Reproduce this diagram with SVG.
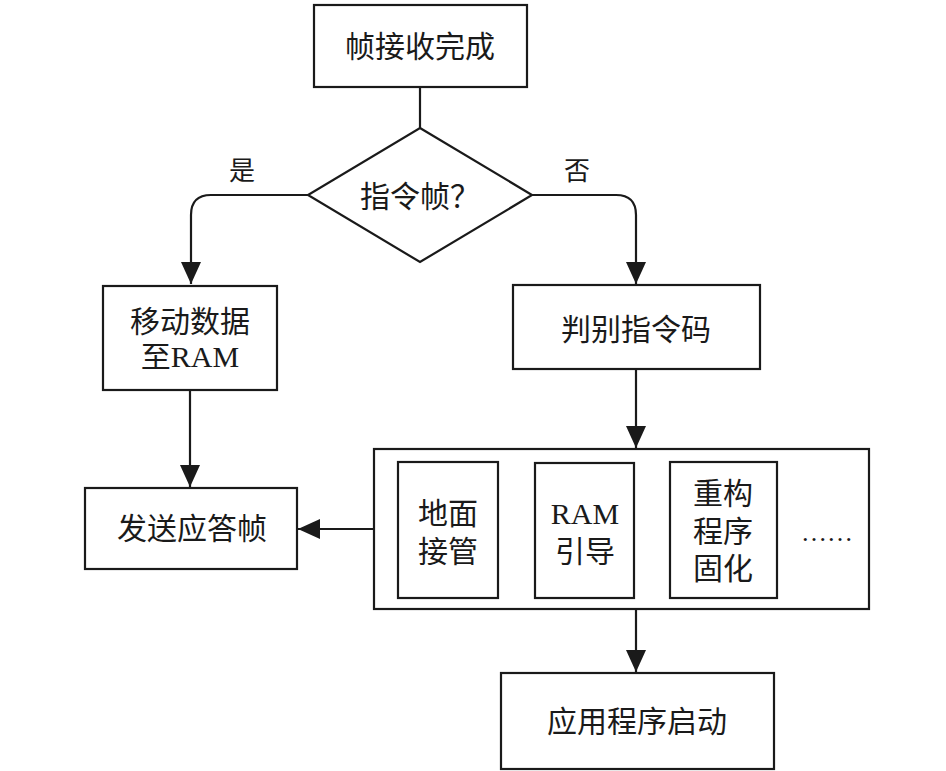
<svg xmlns="http://www.w3.org/2000/svg" width="946" height="771" viewBox="0 0 946 771">
<defs>
<marker id="arr" markerUnits="userSpaceOnUse" markerWidth="22" markerHeight="20" viewBox="0 0 22 20" refX="22" refY="10" orient="auto">
<path d="M0,0 L22,10 L0,20 Z" fill="#1a1a1a"/>
</marker>
<style>
.box{fill:#fff;stroke:#1a1a1a;stroke-width:2.2}
.ln{fill:none;stroke:#1a1a1a;stroke-width:2.2}
text{font-family:"Liberation Serif","Noto Sans CJK SC",serif;fill:#1a1a1a;text-anchor:middle;dominant-baseline:central}
.t28{font-size:30px}
.t26{font-size:26px}
.t24{font-size:26px}
</style>
</defs>
<g id="connectors">
<path class="ln" d="M420,87 V128"/>
<path class="ln" d="M308,195 H211 Q191,195 191,215 V284" marker-end="url(#arr)"/>
<path class="ln" d="M532,195 H616 Q636,195 636,215 V284" marker-end="url(#arr)"/>
<path class="ln" d="M190,390 V487" marker-end="url(#arr)"/>
<path class="ln" d="M636,369 V448" marker-end="url(#arr)"/>
<path class="ln" d="M374,529 H298" marker-end="url(#arr)"/>
<path class="ln" d="M636,609 V672" marker-end="url(#arr)"/>
<text class="t24" x="242" y="171">是</text>
<text class="t24" x="577" y="171">否</text>
</g>
<g id="n_start">
<rect class="box" x="314" y="5" width="213" height="82"/>
<text class="t28" x="420" y="46">帧接收完成</text>
</g>
<g id="n_decision">
<polygon class="box" points="420,128 532,195 420,262 308,195"/>
<text class="t28" x="420" y="196">指令帧？</text>
</g>
<g id="n_move">
<rect class="box" x="103" y="286" width="174" height="104"/>
<text class="t28" x="190" y="321">移动数据</text>
<text class="t28" x="190" y="356">至RAM</text>
</g>
<g id="n_judge">
<rect class="box" x="513" y="285" width="247" height="84"/>
<text class="t28" x="636" y="329">判别指令码</text>
</g>
<g id="n_reply">
<rect class="box" x="85" y="488" width="212" height="81"/>
<text class="t28" x="192" y="528">发送应答帧</text>
</g>
<g id="n_container">
<rect class="box" x="374" y="449" width="495" height="160"/>
</g>
<g id="n_ground">
<rect class="box" x="398" y="462" width="100" height="136"/>
<text class="t28" x="448" y="513">地面</text>
<text class="t28" x="448" y="551">接管</text>
</g>
<g id="n_ramboot">
<rect class="box" x="535" y="463" width="99" height="135"/>
<text class="t28" x="585" y="513">RAM</text>
<text class="t28" x="585" y="551">引导</text>
</g>
<g id="n_reconf">
<rect class="box" x="670" y="462" width="107" height="136"/>
<text class="t28" x="723" y="493">重构</text>
<text class="t28" x="723" y="531">程序</text>
<text class="t28" x="723" y="568">固化</text>
</g>
<g id="n_more">
<text class="t24" x="827" y="532">……</text>
</g>
<g id="n_app">
<rect class="box" x="501" y="673" width="273" height="96"/>
<text class="t28" x="637" y="721">应用程序启动</text>
</g>
</svg>
